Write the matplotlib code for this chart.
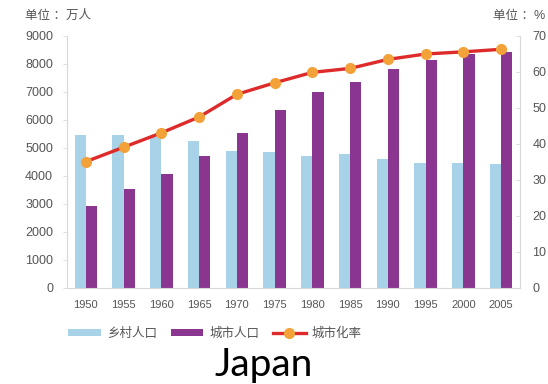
import numpy as np
import matplotlib.pyplot as plt
from matplotlib.patches import Patch
from matplotlib.lines import Line2D

plt.rcParams['font.family'] = ['Liberation Sans', 'Noto Sans CJK SC', 'DejaVu Sans']

# Japan: rural / urban population (10k people) and urbanisation rate (%)
years = ['1950', '1955', '1960', '1965', '1970', '1975', '1980',
         '1985', '1990', '1995', '2000', '2005']
rural = [5450, 5450, 5380, 5240, 4890, 4850, 4730, 4780, 4590, 4460, 4460, 4420]
urban = [2930, 3530, 4080, 4700, 5540, 6370, 7000, 7340, 7810, 8130, 8340, 8430]
urban_rate = [35.1, 39.1, 43.1, 47.5, 53.8, 57.0, 59.9, 61.0, 63.5, 65.0, 65.6, 66.3]

c_rural = '#a8d2e8'
c_urban = '#8a3690'
c_line = '#de2a2a'
c_dot = '#f3a23a'
c_text = '#555555'
c_spine = '#d8d8d8'

fig = plt.figure(figsize=(5.48, 3.84), dpi=100)
ax = fig.add_axes([67 / 548, 96 / 384, 453 / 548, 252 / 384])

x = np.arange(len(years))
w = 0.3
ax.bar(x - w / 2, rural, w, color=c_rural, linewidth=0)
ax.bar(x + w / 2, urban, w, color=c_urban, linewidth=0)

ax.set_xlim(-0.5, len(years) - 0.5)
ax.set_ylim(0, 9000)
ax.set_yticks(range(0, 9001, 1000))
ax.set_xticks(x)
ax.set_xticklabels(years, fontsize=8, color=c_text)
ax.tick_params(axis='x', length=0, pad=9)
ax.tick_params(axis='y', length=3, width=0.6, color=c_spine, labelsize=9,
               labelcolor=c_text, pad=7)
for s in ['top', 'right']:
    ax.spines[s].set_visible(False)
for s in ['left', 'bottom']:
    ax.spines[s].set_color(c_spine)
    ax.spines[s].set_linewidth(0.8)

ax2 = ax.twinx()
ax2.plot(x, urban_rate, color=c_line, lw=2.4, marker='o', ms=7,
         mfc=c_dot, mec=c_dot, zorder=5)
ax2.set_ylim(0, 70)
ax2.set_yticks(range(0, 71, 10))
ax2.tick_params(axis='y', direction='in', length=3, width=0.6, color=c_spine,
                labelsize=9, labelcolor=c_text, pad=9)
for s in ['top', 'left', 'bottom']:
    ax2.spines[s].set_visible(False)
ax2.spines['right'].set_color(c_spine)
ax2.spines['right'].set_linewidth(0.8)

fig.text(25 / 548, 1 - 16 / 384, '单位 ：万人', fontsize=9, color=c_text,
         va='center', ha='left')
fig.text(493 / 548, 1 - 16 / 384, '单位 ：%', fontsize=9, color=c_text,
         va='center', ha='left')

handles = [Patch(color=c_rural, lw=0),
           Patch(color=c_urban, lw=0),
           Line2D([], [], color=c_line, lw=2.4, marker='o', ms=7,
                  mfc=c_dot, mec=c_dot)]
fig.legend(handles, ['乡村人口', '城市人口', '城市化率'], ncol=3,
           loc='center left', bbox_to_anchor=(68 / 548, 1 - 334 / 384),
           frameon=False, fontsize=9, labelcolor=c_text, borderpad=0,
           borderaxespad=0, handlelength=2.6, handleheight=0.5,
           handletextpad=0.5, columnspacing=1.1)

fig.text(264 / 548, 1 - 365 / 384, 'Japan', fontsize=28, family='Lato',
         ha='center', va='center', color='black')

fig.savefig('out.png', dpi=100)
